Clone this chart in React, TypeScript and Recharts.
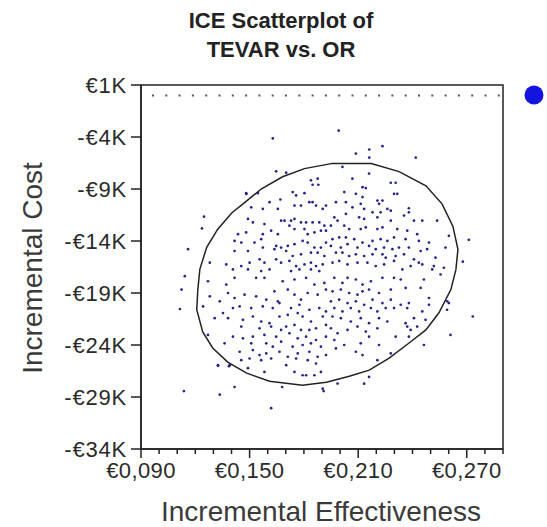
import React from 'react';
import { ScatterChart, Scatter, XAxis, YAxis, ReferenceLine, ReferenceArea } from 'recharts';

const titleLines = ['ICE Scatterplot of', 'TEVAR vs. OR'];
const xAxisLabel = 'Incremental Effectiveness';
const yAxisLabel = 'Incremental Cost';

const xTicks = [0.09, 0.1, 0.11, 0.12, 0.13, 0.14, 0.15, 0.16, 0.17, 0.18, 0.19, 0.2, 0.21, 0.22, 0.23, 0.24, 0.25, 0.26, 0.27, 0.28, 0.29];
const xMajorTicks = [0.09, 0.15, 0.21, 0.27];
const yTicks = [1000, -4000, -9000, -14000, -19000, -24000, -29000, -34000];

// Monte Carlo iterations: [incremental effectiveness, incremental cost (EUR)]
const iterations: [number, number][] = [
  [0.1647,-7300],[0.1702,-7430],[0.1839,-8170],[0.1876,-8010],[0.1848,-8590],[0.1880,-8590],[0.1481,-9400],[0.1546,-9400],[0.1610,-10270],[0.1670,-10010],[0.1738,-9300],[0.1757,-9620],[0.1803,-9400],[0.1248,-11660],[0.1237,-12790],[0.1509,-10760],[0.1573,-10920],[0.1656,-10920],[0.1748,-10590],[0.1784,-10590],[0.1830,-10270],[0.1848,-10270],[0.1867,-10590],[0.1904,-10920],[0.1922,-10590],[0.1491,-11880],[0.1518,-12210],[0.1582,-12370],[0.1674,-12050],[0.1693,-12050],[0.1729,-12050],[0.1748,-11880],[0.1784,-12210],[0.1812,-12210],[0.1848,-12210],[0.1885,-12210],[0.1913,-12530],[0.1436,-13340],[0.1481,-13180],[0.1573,-13340],[0.1619,-13010],[0.1656,-13340],[0.1720,-12530],[0.1748,-12850],[0.1803,-12850],[0.1821,-13340],[0.1858,-13180],[0.1894,-13010],[0.1922,-13010],[0.1417,-13990],[0.1454,-14150],[0.1527,-14150],[0.1564,-13820],[0.1647,-14470],[0.1674,-14630],[0.1711,-14470],[0.1748,-14310],[0.1793,-13990],[0.1821,-14150],[0.1858,-14630],[0.1894,-14630],[0.1922,-14150],[0.1417,-14960],[0.1491,-14960],[0.1573,-14630],[0.1637,-14790],[0.1702,-14960],[0.1738,-15440],[0.1784,-15280],[0.1839,-15120],[0.1876,-15120],[0.1913,-15440],[0.1280,-16080],[0.1371,-16250],[0.1454,-16410],[0.1500,-16080],[0.1555,-15760],[0.1582,-16080],[0.1647,-15760],[0.1674,-16080],[0.1720,-15920],[0.1757,-16410],[0.1803,-16250],[0.1839,-16080],[0.1867,-16410],[0.1904,-16250],[0.1408,-16730],[0.1491,-16730],[0.1564,-16890],[0.1610,-16730],[0.1729,-16890],[0.1775,-16730],[0.1839,-16730],[0.1885,-16890],
  [0.2013,-6880],[0.2160,-7520],[0.2068,-8010],[0.2280,-8400],[0.2307,-8400],[0.2124,-8820],[0.2142,-8910],[0.2023,-9300],[0.2298,-9460],[0.2316,-9460],[0.2087,-9460],[0.2124,-9780],[0.2206,-10110],[0.2234,-10110],[0.2215,-10430],[0.2380,-10850],[0.1977,-10270],[0.2032,-10270],[0.2068,-10760],[0.2114,-10430],[0.2133,-10920],[0.2179,-11240],[0.2224,-11240],[0.2261,-10920],[0.2280,-11080],[0.2353,-11560],[0.2380,-11240],[0.1968,-11720],[0.1986,-12050],[0.2032,-11400],[0.2105,-11720],[0.2133,-11880],[0.2206,-11720],[0.2280,-12050],[0.2408,-12050],[0.2454,-12050],[0.2536,-12050],[0.1949,-12530],[0.2023,-12530],[0.2050,-12850],[0.2114,-12850],[0.2142,-12690],[0.2206,-12850],[0.2234,-12690],[0.2316,-12850],[0.2371,-13010],[0.2426,-13340],[0.2601,-13500],[0.1958,-13820],[0.1995,-13660],[0.2032,-13660],[0.2078,-13820],[0.2124,-14150],[0.2179,-13990],[0.2224,-13820],[0.2261,-13990],[0.2298,-13660],[0.2362,-13820],[0.2435,-13990],[0.2491,-14150],[0.1949,-14470],[0.2004,-14630],[0.2041,-14310],[0.2096,-14630],[0.2160,-14470],[0.2197,-14790],[0.2243,-14630],[0.2289,-14790],[0.2325,-14630],[0.2380,-14630],[0.2445,-14960],[0.2481,-14790],[0.2582,-14630],[0.1977,-15120],[0.2013,-15120],[0.2050,-15440],[0.2087,-15280],[0.2133,-15440],[0.2179,-15280],[0.2234,-15280],[0.2252,-15600],[0.2307,-15440],[0.2353,-15280],[0.2408,-15760],[0.2435,-16080],[0.2527,-15600],[0.1958,-16080],[0.1995,-15920],[0.2041,-16250],[0.2096,-16080],[0.2151,-16080],[0.2197,-16410],[0.2243,-16250],[0.2298,-15920],[0.2344,-16730],[0.2390,-16410],[0.2454,-16250],[0.2518,-16410],[0.2573,-16570],
  [0.1270,-17870],[0.1371,-18190],[0.1417,-17540],[0.1536,-17540],[0.1582,-17540],[0.1683,-17870],[0.1748,-17700],[0.1812,-17540],[0.1858,-18190],[0.1913,-18030],[0.1280,-19320],[0.1335,-19800],[0.1381,-19000],[0.1417,-19480],[0.1472,-19160],[0.1536,-19320],[0.1592,-19640],[0.1637,-18840],[0.1656,-19800],[0.1711,-18670],[0.1748,-19160],[0.1784,-19640],[0.1821,-19000],[0.1876,-19160],[0.1922,-18670],[0.1243,-20290],[0.1353,-20930],[0.1408,-20450],[0.1445,-20290],[0.1509,-20450],[0.1573,-20290],[0.1628,-20450],[0.1665,-19970],[0.1729,-20450],[0.1775,-20130],[0.1830,-20610],[0.1885,-20450],[0.1922,-20770],[0.1307,-21420],[0.1381,-21420],[0.1463,-21580],[0.1518,-21260],[0.1564,-21740],[0.1610,-21900],[0.1665,-21260],[0.1711,-21100],[0.1766,-20930],[0.1793,-21260],[0.1839,-21740],[0.1904,-21260],[0.1454,-22230],[0.1555,-22390],[0.1619,-22230],[0.1674,-22550],[0.1702,-22230],[0.1748,-22070],[0.1784,-22550],[0.1830,-22550],[0.1867,-22390],[0.1922,-22070],[0.1270,-23030],[0.1408,-23200],[0.1463,-23360],[0.1518,-23200],[0.1582,-23030],[0.1647,-23200],[0.1720,-22870],[0.1766,-23360],[0.1812,-23200],[0.1867,-23520],[0.1922,-23200],[0.1362,-23840],[0.1509,-23840],[0.1592,-23840],[0.1628,-24160],[0.1674,-23680],[0.1738,-24160],[0.1793,-24000],[0.1839,-23840],[0.1894,-24160],[0.1445,-24650],[0.1518,-24490],[0.1555,-24970],[0.1592,-24810],[0.1665,-24650],[0.1711,-25130],[0.1766,-24810],[0.1830,-24650],[0.1876,-25130],[0.1922,-24970],[0.1325,-25940],[0.1390,-25940],[0.1454,-25460],[0.1500,-25300],[0.1564,-25460],[0.1619,-25300],[0.1702,-25940],[0.1757,-25300],[0.1821,-25460],[0.1867,-25780],[0.1582,-26590],[0.1748,-26590],[0.1793,-26910],[0.1812,-26910],[0.1858,-26910],[0.1894,-26590],[0.1417,-28040],[0.1904,-28200],
  [0.1968,-17540],[0.2013,-18030],[0.2041,-17540],[0.2087,-17700],[0.2124,-18190],[0.2170,-17870],[0.2234,-17540],[0.2298,-17540],[0.2335,-17700],[0.2463,-17700],[0.2160,-18670],[0.1958,-18840],[0.2004,-18670],[0.2050,-19000],[0.2096,-19160],[0.2124,-18840],[0.2215,-19000],[0.2280,-18670],[0.2362,-18510],[0.2445,-18510],[0.2491,-19480],[0.1949,-19800],[0.1995,-19640],[0.2041,-19970],[0.2087,-19800],[0.2133,-20130],[0.2179,-19640],[0.2234,-19970],[0.2280,-19640],[0.2335,-20130],[0.2380,-19970],[0.2491,-20130],[0.2601,-19970],[0.1968,-20450],[0.2013,-20770],[0.2059,-20450],[0.2105,-20770],[0.2170,-20450],[0.2206,-20770],[0.2252,-20450],[0.2298,-20450],[0.2371,-20450],[0.2454,-20770],[0.2591,-20610],[0.1958,-21260],[0.2004,-21420],[0.2059,-21740],[0.2114,-21420],[0.2160,-21900],[0.2215,-21420],[0.2261,-21740],[0.2362,-21900],[0.2408,-21420],[0.2472,-21580],[0.1949,-22390],[0.1986,-22870],[0.2041,-22550],[0.2096,-22230],[0.2142,-22710],[0.2206,-22390],[0.2371,-22230],[0.2390,-22550],[0.2426,-22230],[0.2610,-23030],[0.1968,-23520],[0.2023,-24000],[0.2114,-23840],[0.2160,-23200],[0.2215,-24000],[0.2307,-23200],[0.2380,-23200],[0.2463,-24000],[0.1977,-24330],[0.2087,-24650],[0.2124,-24970],[0.2280,-24810],[0.2206,-25460],[0.2160,-27070],[0.2133,-27720],
  [0.1628,-4140],[0.1482,-9470],[0.1992,-3390],[0.2087,-5590],[0.2161,-5200],[0.2161,-5980],[0.2234,-4880],[0.2418,-5980],[0.1160,-14790],[0.1142,-17380],[0.1124,-18670],[0.1115,-20540],[0.1326,-26000],[0.2711,-13890],[0.2678,-15990],[0.2733,-21260],[0.2592,-19800],[0.2555,-17220],[0.2509,-16730],[0.1137,-28430],[0.1335,-28780],[0.1619,-30070],[0.1909,-28430],[0.1680,-28040],[0.1491,-26230],[0.1386,-26040],[0.1986,-27710],
];

// 95% confidence ellipse outline: [effectiveness, cost]
const ellipseOutline: [number, number][] = [
  [0.1951,-6560],[0.2172,-6560],[0.2326,-7330],[0.2474,-8690],[0.2563,-10430],[0.2623,-12570],[0.2651,-14800],[0.2640,-16730],[0.2612,-18670],[0.2546,-20900],[0.2474,-22550],[0.2381,-23810],[0.2271,-25260],[0.2161,-26420],[0.2051,-27000],[0.1924,-27590],[0.1792,-27880],[0.1610,-27490],[0.1484,-26710],[0.1379,-25650],[0.1296,-24290],[0.1241,-22740],[0.1208,-20610],[0.1214,-18670],[0.1225,-16730],[0.1263,-14600],[0.1324,-12860],[0.1401,-11310],[0.1484,-10140],[0.1566,-8980],[0.1682,-7820],[0.1803,-7040],[0.1951,-6560],
];

const pointData = iterations.map(([x, y]) => ({ x, y }));
const ellipseData = ellipseOutline.map(([x, y]) => ({ x, y }));

const INK = '#222';
const FONT = '"Liberation Sans", Arial, sans-serif';

const fmtX = (v: number) => `€0,${String(Math.round(v * 1000)).padStart(3, '0')}`;
const fmtY = (v: number) => (v < 0 ? `-€${Math.round(-v / 1000)}K` : `€${Math.round(v / 1000)}K`);

const XTick = (props: any) => {
  const { x, y, payload } = props;
  const v = payload.value as number;
  const major = xMajorTicks.some((m) => Math.abs(m - v) < 1e-6);
  return (
    <g>
      <line x1={x} x2={x} y1={y} y2={y + (major ? 9 : 5)} stroke={INK} strokeWidth={1.5} />
      {major && (
        <text x={x} y={y + 29} textAnchor="middle" fontSize={22} letterSpacing={0.4} fill="#2a2a2a" fontFamily={FONT}>
          {fmtX(v)}
        </text>
      )}
    </g>
  );
};

const YTick = (props: any) => {
  const { x, y, payload } = props;
  return (
    <g>
      <line x1={x - 10} x2={x} y1={y} y2={y} stroke={INK} strokeWidth={1.5} />
      <text x={x - 14} y={y} dy="0.36em" textAnchor="end" fontSize={22} letterSpacing={0.8} fill="#2a2a2a" fontFamily={FONT}>
        {fmtY(payload.value)}
      </text>
    </g>
  );
};

const Dot = (props: any) => <circle cx={props.cx} cy={props.cy} r={1.35} fill="#23238a" />;
const NoShape = () => <g />;

export default function App() {
  return (
    <div style={{ position: 'absolute', left: 0, top: 0, width: 547, height: 527, background: '#fff' }}>
      <ScatterChart width={547} height={527} margin={{ top: 85, right: 44, bottom: 0, left: 0 }}>
        <XAxis
          type="number"
          dataKey="x"
          domain={[0.09, 0.29]}
          ticks={xTicks}
          interval={0}
          allowDataOverflow
          height={78}
          tickSize={0}
          tickMargin={0}
          tickLine={false}
          tick={XTick}
          axisLine={{ stroke: INK, strokeWidth: 1.5 }}
        />
        <YAxis
          type="number"
          dataKey="y"
          domain={[-34000, 1000]}
          ticks={yTicks}
          interval={0}
          allowDataOverflow
          width={141}
          tickSize={0}
          tickMargin={0}
          tickLine={false}
          tick={YTick}
          axisLine={{ stroke: INK, strokeWidth: 1.5 }}
        />
        <ReferenceArea x1={0.09} x2={0.29} y1={-34000} y2={1000} fill="none" stroke={INK} strokeWidth={1.5} ifOverflow="visible" />
        <ReferenceLine y={0} stroke="#555" strokeWidth={2} strokeDasharray="2 11.3" strokeDashoffset={-11} />
        <Scatter data={pointData} shape={Dot} isAnimationActive={false} />
        <Scatter data={ellipseData} shape={NoShape} line={{ stroke: INK, strokeWidth: 1.5 }} lineType="joint" isAnimationActive={false} />
      </ScatterChart>
      <svg width={547} height={527} style={{ position: 'absolute', left: 0, top: 0, pointerEvents: 'none' }}>
        <text x={281} y={28} textAnchor="middle" fontSize={22} fontWeight="bold" fill={INK} fontFamily={FONT}>{titleLines[0]}</text>
        <text x={281} y={57} textAnchor="middle" fontSize={22} fontWeight="bold" fill={INK} fontFamily={FONT}>{titleLines[1]}</text>
        <text transform="translate(42,268) rotate(-90)" textAnchor="middle" fontSize={28} fill="#3a3a3a" fontFamily={FONT}>{yAxisLabel}</text>
        <text x={321} y={521} textAnchor="middle" fontSize={28} fill="#3a3a3a" fontFamily={FONT}>{xAxisLabel}</text>
        <circle cx={534} cy={95} r={9.5} fill="#1414e0" />
      </svg>
    </div>
  );
}
